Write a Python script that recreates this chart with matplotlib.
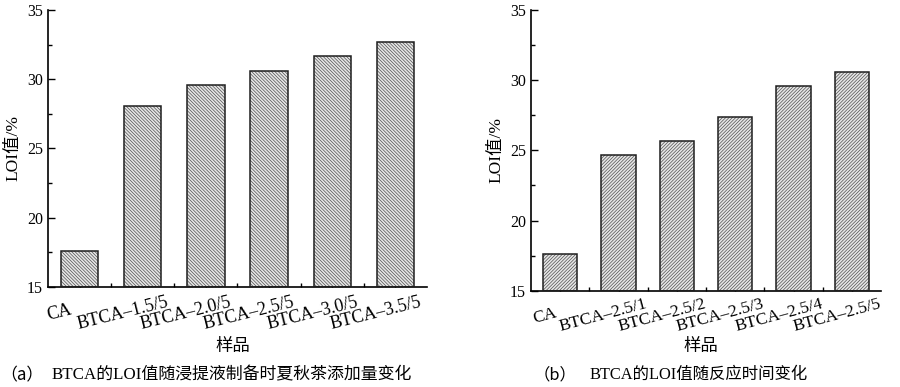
import numpy as np
import matplotlib
matplotlib.use("Agg")
from matplotlib import pyplot as plt
from matplotlib.transforms import ScaledTranslation, blended_transform_factory

plt.rcParams['font.family'] = ['Liberation Serif', 'Noto Sans CJK SC']
plt.rcParams['hatch.linewidth'] = 0.5

# data
labels_a = ['CA', 'BTCA\u20131.5/5', 'BTCA\u20132.0/5', 'BTCA\u20132.5/5', 'BTCA\u20133.0/5', 'BTCA\u20133.5/5']
loi_a = [17.6, 28.1, 29.6, 30.6, 31.7, 32.7]

labels_b = ['CA', 'BTCA\u20132.5/1', 'BTCA\u20132.5/2', 'BTCA\u20132.5/3', 'BTCA\u20132.5/4', 'BTCA\u20132.5/5']
loi_b = [17.6, 24.7, 25.7, 27.4, 29.6, 30.6]

tag_a, caption_a = '（a）', 'BTCA的LOI值随浸提液制备时夏秋茶添加量变化'
tag_b, caption_b = '（b）', 'BTCA的LOI值随反应时间变化'

fig = plt.figure(figsize=(9, 3.87), dpi=100)
ax1 = fig.add_axes([0.0533, 0.2584, 0.4211, 0.7158])
ax2 = fig.add_axes([0.590, 0.2488, 0.389, 0.7253])


def draw(ax, labels, vals, hatch, dx, dy, fs, rot):
    x = np.arange(len(vals))
    h = np.array(vals) - 15
    # hatched fill first, then black outline
    ax.bar(x, h, bottom=15, width=0.59, color='#e6e6e6',
           edgecolor='#505050', hatch=hatch, linewidth=0, zorder=2)
    ax.bar(x, h, bottom=15, width=0.59, fill=False,
           edgecolor='#1e1e1e', linewidth=1.1, zorder=3)
    ax.set_xlim(-0.5, len(vals) - 0.5)
    ax.set_ylim(15, 35)
    ax.set_yticks([15, 20, 25, 30, 35])
    ax.set_yticks(np.arange(17.5, 35, 5), minor=True)
    ax.set_xticks(x)
    ax.set_xticks(np.arange(0.5, len(vals) - 0.5, 1), minor=True)
    ax.set_xticklabels([])
    tr = blended_transform_factory(ax.transData, ax.transAxes) + \
        ScaledTranslation(dx / 100, dy / 100, fig.dpi_scale_trans)
    for xi, lab in zip(x, labels):
        ax.text(xi, 0, lab, transform=tr, ha='center', va='center',
                rotation=rot, rotation_mode='anchor', fontsize=fs)
    ax.tick_params(axis='both', which='major', direction='in', length=5, width=1, labelsize=11.5)
    ax.tick_params(axis='both', which='minor', direction='in', length=3, width=1)
    for s in ['top', 'right']:
        ax.spines[s].set_visible(False)
    for s in ['left', 'bottom']:
        ax.spines[s].set_linewidth(1.2)
    ax.set_ylabel('LOI值/%', fontsize=12.5, labelpad=4)


draw(ax1, labels_a, loi_a, '\\' * 10, -20, -26, 13, 14)
draw(ax2, labels_b, loi_b, '/' * 10, -15, -25, 12.5, 15)

fig.text(233 / 900, 1 - 347 / 387, '样品', ha='center', va='center', fontsize=12.5)
fig.text(701 / 900, 1 - 347 / 387, '样品', ha='center', va='center', fontsize=12.5)
fig.text(0 / 900, 1 - 375 / 387, tag_a, ha='left', va='center', fontsize=12.2, family='Noto Sans CJK SC')
fig.text(52 / 900, 1 - 375 / 387, caption_a, ha='left', va='center', fontsize=12.2)
fig.text(534 / 900, 1 - 375 / 387, tag_b, ha='left', va='center', fontsize=11.8, family='Noto Sans CJK SC')
fig.text(590 / 900, 1 - 375 / 387, caption_b, ha='left', va='center', fontsize=11.8)

fig.savefig('out.png', dpi=100)
